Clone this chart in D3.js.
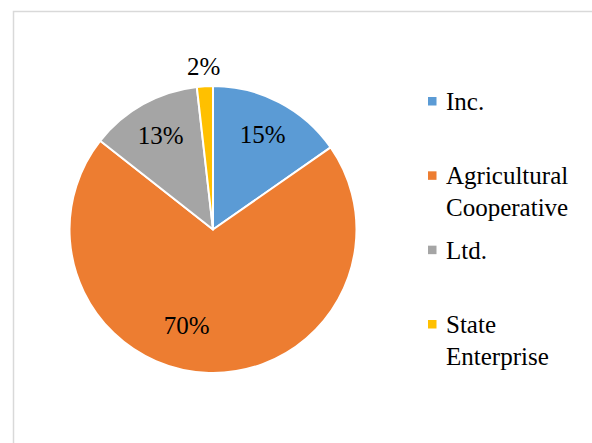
<!DOCTYPE html>
<meta charset="utf-8">
<style>
  body { margin: 0; background: #fff; }
  svg { display: block; }
  text { font-family: "Times New Roman", "Liberation Serif", "Liberation Sans", sans-serif; }
</style>
<body>
<script src="https://d3js.org/d3.v7.min.js"></script>
<script>

// data
var categories = ["Inc.", "Agricultural Cooperative", "Ltd.", "State Enterprise"];
var values = [15.3, 70.3, 12.6, 1.8];
var colors = ["#5B9BD5", "#ED7D31", "#A5A5A5", "#FFC000"];

var width = 592, height = 443;
var cx = 213, cy = 229.5, radius = 143.5;

var svg = d3.select("body").append("svg")
    .attr("width", width)
    .attr("height", height);

// chart area border (runs off right and bottom)
svg.append("rect")
    .attr("x", 13.5).attr("y", 11.5)
    .attr("width", 620).attr("height", 460)
    .attr("fill", "none")
    .attr("stroke", "#D9D9D9")
    .attr("stroke-width", 1.5);

var total = d3.sum(values);
var data = categories.map(function(c, i) { return {name: c, value: values[i], color: colors[i]}; });

var pie = d3.pie().sort(null).value(function(d) { return d.value; });
var arcs = pie(data);

var arc = d3.arc().innerRadius(0).outerRadius(radius);

var g = svg.append("g").attr("transform", "translate(" + cx + "," + cy + ")");

g.selectAll("path")
    .data(arcs)
  .enter().append("path")
    .attr("d", arc)
    .attr("fill", function(d) { return d.data.color; })
    .attr("stroke", "#fff")
    .attr("stroke-width", 2)
    .attr("stroke-linejoin", "round");

// label placement: radius as fraction of pie radius; big slice label sits off the bisector like excel does
function labelPos(d) {
  var frac = d.value / total;
  var a = (d.startAngle + d.endAngle) / 2;
  var r = radius * 0.75;
  if (frac < 0.05) r = radius * 1.14;
  if (frac > 0.5) { a = a + 0.24; r = radius * 0.69; }
  return [Math.sin(a) * r, -Math.cos(a) * r];
}

g.selectAll("text.lbl")
    .data(arcs)
  .enter().append("text")
    .attr("class", "lbl")
    .attr("transform", function(d) { return "translate(" + labelPos(d) + ")"; })
    .attr("text-anchor", "middle")
    .attr("dy", "0.35em")
    .attr("font-size", 25)
    .attr("fill", "#000")
    .text(function(d) { return Math.round(d.value / total * 100) + "%"; });

// legend
var legendY = d3.scalePoint().domain(categories).range([110, 333]);
var legend = svg.append("g");

var item = legend.selectAll("g")
    .data(data)
  .enter().append("g")
    .attr("transform", function(d) { return "translate(0," + legendY(d.name) + ")"; });

item.append("rect")
    .attr("x", 428).attr("y", -13)
    .attr("width", 8.5).attr("height", 8.5)
    .attr("fill", function(d) { return d.color; });

item.append("text")
    .attr("x", 446)
    .attr("font-size", 25)
    .attr("fill", "#000")
    .each(function(d) {
      var words = d.name.split(" ");
      var t = d3.select(this);
      words.forEach(function(w, i) {
        t.append("tspan").attr("x", 446).attr("dy", i === 0 ? 0 : 31.5).text(w);
      });
    });

</script>
</body>
